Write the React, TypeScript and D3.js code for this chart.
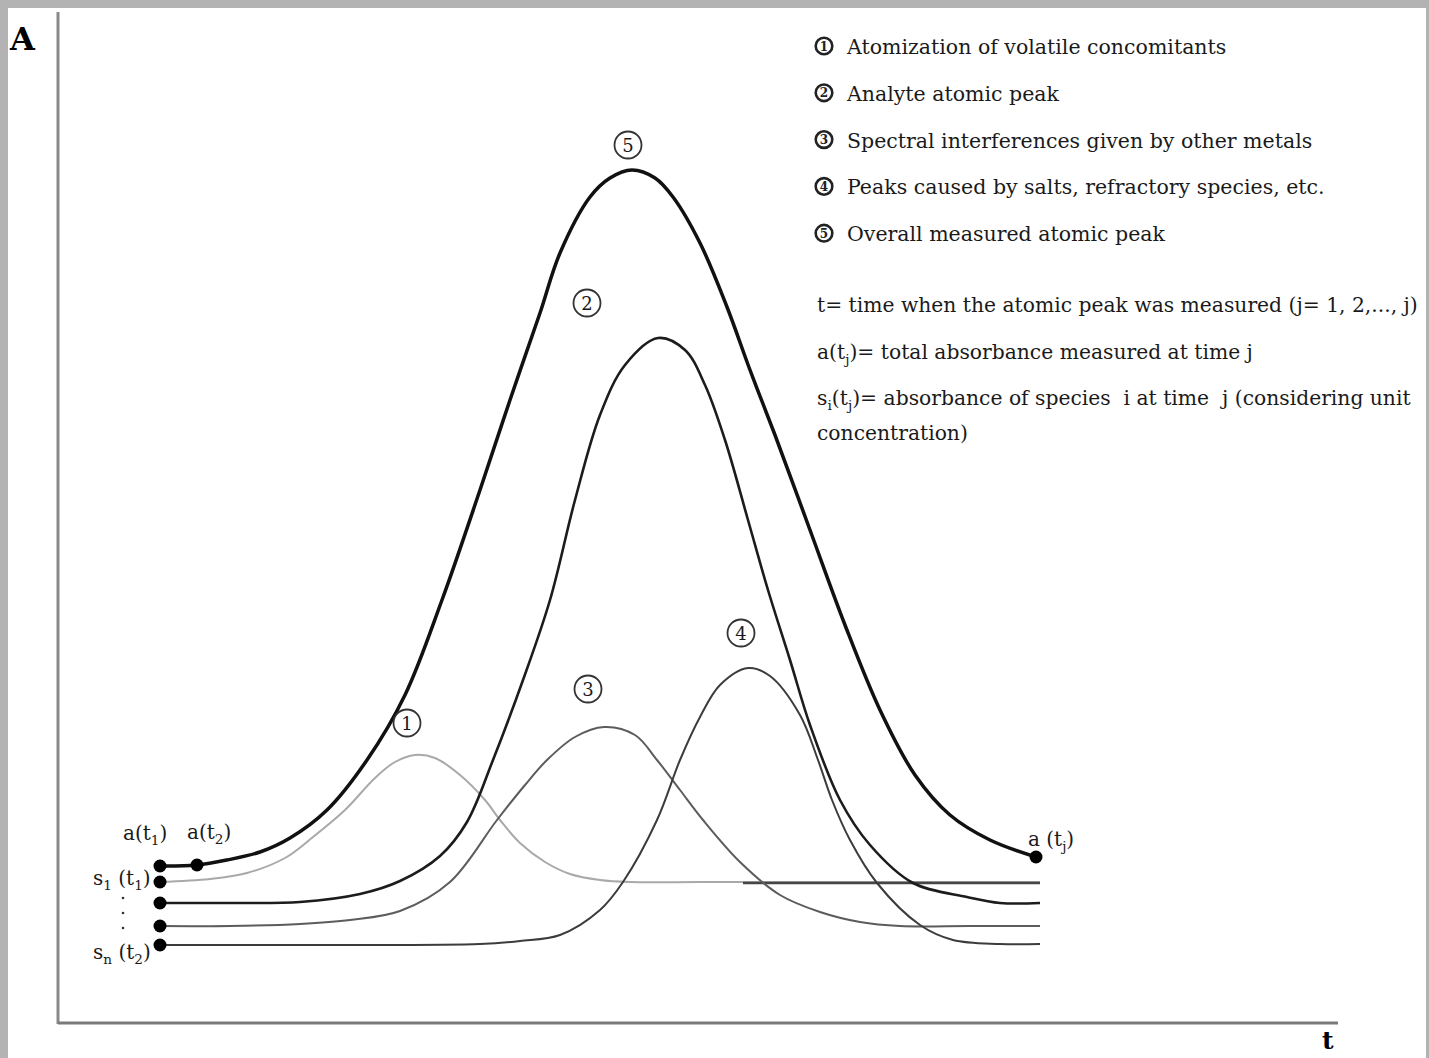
import React from "react";
import * as d3 from "d3";

type P = [number, number];

// time (arbitrary units, 0..128) vs absorbance (arbitrary units, 0..100)
const overallPeak: P[] = [
  [10.2, 15.7], [13.9, 15.8], [16.9, 16.3], [20.2, 17.1], [23.2, 18.5], [26.9, 21.3],
  [30.9, 26.3], [34.7, 32.8], [38.4, 42.3], [42.2, 53.3], [45.2, 62.3], [48.2, 71.0],
  [50.2, 77.0], [53.2, 82.6], [55.2, 84.5], [57.4, 85.3], [59.7, 84.5], [61.5, 82.6],
  [64.2, 78.0], [66.9, 71.6], [69.2, 65.3], [71.7, 58.8], [75.2, 49.3], [78.7, 39.8],
  [82.2, 31.3], [85.7, 24.8], [89.2, 20.8], [93.2, 18.3], [97.8, 16.6],
];

const analytePeak: P[] = [
  [10.2, 12.0], [17.2, 12.0], [24.2, 12.1], [30.2, 12.9], [34.2, 14.2], [38.2, 16.7], [40.9, 20.1],
  [43.5, 26.3], [46.5, 34.3], [49.2, 42.3], [51.7, 52.3], [54.2, 60.8], [56.7, 65.8],
  [60.0, 68.5], [62.7, 67.3], [64.7, 63.8], [66.7, 58.3], [69.0, 50.3], [71.0, 43.3],
  [73.2, 36.3], [75.2, 29.8], [78.2, 22.3], [81.2, 17.8], [85.5, 14.0], [90.9, 12.6],
  [94.2, 12.0], [98.2, 12.0],
];

const spectralPeak: P[] = [
  [10.2, 9.7], [17.2, 9.7], [24.2, 9.9], [29.2, 10.3], [34.2, 11.2], [39.2, 14.1], [43.9, 20.3],
  [46.7, 23.8], [48.9, 26.3], [51.7, 28.6], [54.6, 29.6], [57.7, 28.8], [59.9, 26.3],
  [62.2, 23.3], [64.5, 20.3], [68.2, 16.1], [72.2, 12.8], [76.2, 11.1], [80.2, 10.1],
  [84.2, 9.7], [91.2, 9.7], [98.2, 9.7],
];

const saltPeak: P[] = [
  [10.2, 7.8], [26.2, 7.8], [42.2, 7.9], [46.2, 8.2], [50.2, 8.8], [54.2, 11.3], [56.5, 14.1],
  [59.9, 20.3], [62.2, 26.3], [64.2, 30.6], [66.2, 33.8], [69.0, 35.5], [71.2, 34.7],
  [74.2, 30.8], [76.0, 26.3], [77.4, 22.3], [79.2, 18.3], [81.9, 14.0], [86.2, 9.8],
  [89.5, 8.3], [94.2, 7.9], [98.2, 7.9],
];

const volatilePeak: P[] = [
  [10.2, 14.1], [15.2, 14.4], [18.9, 15.0], [22.7, 16.5], [25.5, 18.6], [28.7, 21.3],
  [31.7, 24.5], [33.7, 26.1], [35.7, 26.8], [37.7, 26.5], [40.2, 24.8], [42.7, 22.3],
  [44.2, 20.3], [46.2, 18.0], [48.7, 16.1], [51.2, 14.9], [54.2, 14.3], [57.2, 14.1],
  [64.2, 14.1], [72.2, 14.1], [98.2, 14.1],
];

const volatileBaselineDark: P[] = [[68.5, 14.0], [98.2, 14.0]];

const markerPoints: P[] = [
  [10.2, 15.7], [13.9, 15.8], [10.2, 14.1], [10.2, 12.0], [10.2, 9.7], [10.2, 7.8], [97.8, 16.6],
];

const peakTags: { n: string; t: number; a: number }[] = [
  { n: "5", t: 57.0, a: 87.8 },
  { n: "2", t: 52.9, a: 72.0 },
  { n: "1", t: 34.9, a: 30.0 },
  { n: "3", t: 53.0, a: 33.4 },
  { n: "4", t: 68.3, a: 39.0 },
];

const legendNums = ["1", "2", "3", "4", "5"];
const legendItems = [
  "Atomization of volatile concomitants",
  "Analyte atomic peak",
  "Spectral interferences given by other metals",
  "Peaks caused by salts, refractory species, etc.",
  "Overall measured atomic peak",
];

type Seg = { s: string; sub?: boolean };
const notes: Seg[][] = [
  [{ s: "t= time when the atomic peak was measured (j= 1, 2,..., j)" }],
  [{ s: "a(t" }, { s: "j", sub: true }, { s: ")= total absorbance measured at time j" }],
  [{ s: "s" }, { s: "i", sub: true }, { s: "(t" }, { s: "j", sub: true }, { s: ")= absorbance of species  i at time  j (considering unit" }],
  [{ s: "concentration)" }],
];

const W = 1429;
const H = 1058;
const FONT = "'DejaVu Serif', 'Liberation Serif', serif";
const INK = "#1a1a1a";

function Rich({ segs, x, y, size }: { segs: Seg[]; x: number; y: number; size: number }) {
  const out: React.ReactNode[] = [];
  let shifted = false;
  segs.forEach((g, i) => {
    if (g.sub) {
      out.push(
        <tspan key={i} dy={5} fontSize={size * 0.68}>{g.s}</tspan>
      );
      shifted = true;
    } else {
      out.push(
        <tspan key={i} dy={shifted ? -5 : 0}>{g.s}</tspan>
      );
      shifted = false;
    }
  });
  return (
    <text x={x} y={y} fontSize={size} fontFamily={FONT} fill={INK} style={{ whiteSpace: "pre" }}>
      {out}
    </text>
  );
}

export default function App() {
  const x = d3.scaleLinear().domain([0, 128]).range([58, 1338]);
  const y = d3.scaleLinear().domain([0, 100]).range([1023, 23]);
  const line = d3
    .line<P>()
    .x((d) => x(d[0]))
    .y((d) => y(d[1]))
    .curve(d3.curveCatmullRom.alpha(0.5));

  const series = [
    { d: volatilePeak, stroke: "#a9a9a9", w: 2 },
    { d: volatileBaselineDark, stroke: "#454545", w: 2.4 },
    { d: spectralPeak, stroke: "#5c5c5c", w: 2 },
    { d: saltPeak, stroke: "#3c3c3c", w: 2 },
    { d: analytePeak, stroke: "#1c1c1c", w: 2.6 },
    { d: overallPeak, stroke: "#111111", w: 3.5 },
  ];

  const [x0, x1] = x.range();
  const [yb] = y.range();

  const m = (i: number) => ({ cx: x(markerPoints[i][0]), cy: y(markerPoints[i][1]) });

  return (
    <div style={{ position: "absolute", left: 0, top: 0, width: W, height: H }}>
      <svg width={W} height={H} style={{ display: "block" }}>
        <rect x={0} y={0} width={W} height={H} fill="#b3b3b3" />
        <rect x={8} y={8} width={W - 11} height={H - 8} fill="#ffffff" />

        {/* axes */}
        <line x1={x0} x2={x0} y1={12} y2={yb + 1} stroke="#8a8a8a" strokeWidth={3} />
        <line x1={x0} x2={x1} y1={yb} y2={yb} stroke="#7a7a7a" strokeWidth={3} />
        <text x={10} y={50} fontFamily={FONT} fontWeight="bold" fontSize={32} fill="#000">A</text>
        <text x={1322} y={1049} fontFamily={FONT} fontWeight="bold" fontSize={25} fill="#000">t</text>

        {/* curves */}
        {series.map((s, i) => (
          <path key={i} d={line(s.d) || ""} fill="none" stroke={s.stroke} strokeWidth={s.w} strokeLinejoin="round" />
        ))}

        {/* markers */}
        {markerPoints.map((p, i) => (
          <circle key={i} cx={x(p[0])} cy={y(p[1])} r={6.5} fill="#000" />
        ))}

        {/* peak tags */}
        {peakTags.map((p) => (
          <g key={p.n} transform={`translate(${x(p.t)},${y(p.a)})`}>
            <circle r={13.5} fill="#fff" stroke="#333" strokeWidth={1.8} />
            <text textAnchor="middle" dy={6.5} fontSize={18} fontFamily={FONT} fill={INK}>{p.n}</text>
          </g>
        ))}

        {/* point labels */}
        <Rich segs={[{ s: "a(t" }, { s: "1", sub: true }, { s: ")" }]} x={m(0).cx - 37} y={m(0).cy - 26} size={20} />
        <Rich segs={[{ s: "a(t" }, { s: "2", sub: true }, { s: ")" }]} x={m(1).cx - 10} y={m(1).cy - 26} size={20} />
        <Rich segs={[{ s: "s" }, { s: "1", sub: true }, { s: " (t" }, { s: "1", sub: true }, { s: ")" }]} x={m(2).cx - 67} y={m(2).cy + 3} size={20} />
        <Rich segs={[{ s: "s" }, { s: "n", sub: true }, { s: " (t" }, { s: "2", sub: true }, { s: ")" }]} x={m(5).cx - 67} y={m(5).cy + 14} size={20} />
        {[0, 1, 2].map((k) => (
          <circle key={k} cx={m(2).cx - 37} cy={m(2).cy + 16 + k * 15} r={1.3} fill="#333" />
        ))}
        <Rich segs={[{ s: "a (t" }, { s: "j", sub: true }, { s: ")" }]} x={m(6).cx - 8} y={m(6).cy - 11} size={20} />

        {/* legend */}
        {legendItems.map((txt, i) => {
          const cy = 46 + i * 46.8;
          return (
            <g key={i}>
              <circle cx={824} cy={cy} r={8.3} fill="#fff" stroke="#222" strokeWidth={2.6} />
              <text x={824} y={cy + 4.5} textAnchor="middle" fontSize={12} fontWeight="bold" fontFamily={FONT} fill="#222">{legendNums[i]}</text>
              <text x={847} y={cy + 8} fontSize={20.5} fontFamily={FONT} fill={INK} style={{ whiteSpace: "pre" }}>{txt}</text>
            </g>
          );
        })}
        {notes.map((segs, i) => (
          <Rich key={i} segs={segs} x={817} y={[312, 359, 405, 440][i]} size={20.3} />
        ))}
      </svg>
    </div>
  );
}
